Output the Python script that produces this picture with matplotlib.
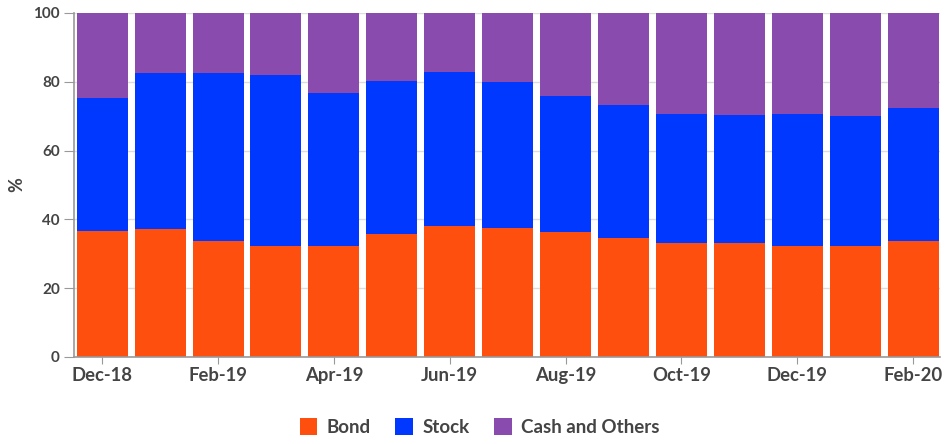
import matplotlib.pyplot as plt
import numpy as np

months = ["Dec-18", "Jan-19", "Feb-19", "Mar-19", "Apr-19", "May-19", "Jun-19",
          "Jul-19", "Aug-19", "Sep-19", "Oct-19", "Nov-19", "Dec-19", "Jan-20", "Feb-20"]
bond = [36.6, 37.3, 33.6, 32.2, 32.2, 35.7, 38.1, 37.4, 36.2, 34.7, 33.1, 33.0, 32.3, 32.3, 33.7]
stock = [38.7, 45.3, 49.0, 49.7, 44.5, 44.4, 44.6, 42.4, 39.6, 38.6, 37.5, 37.3, 38.2, 37.6, 38.7]
cash = [100 - b - s for b, s in zip(bond, stock)]

plt.rcParams["font.family"] = ["Lato", "DejaVu Sans"]

fig = plt.figure(figsize=(9.46, 4.44), dpi=100)
ax = fig.add_axes([0.078, 0.196, 0.916, 0.775])

x = np.arange(len(months))
bond = np.array(bond)
stock = np.array(stock)
cash = np.array(cash)

ax.bar(x, bond, width=0.88, color="#FF4F0F", label="Bond", zorder=2)
ax.bar(x, stock, width=0.88, bottom=bond, color="#0038FF", label="Stock", zorder=2)
ax.bar(x, cash, width=0.88, bottom=bond + stock, color="#8A4BAF", label="Cash and Others", zorder=2)

ax.set_xlim(-0.49, 14.47)
ax.set_ylim(0, 100)
ax.set_yticks([0, 20, 40, 60, 80, 100])
ax.set_xticks(x[::2])
ax.set_xticklabels(months[::2])
ax.grid(axis="y", color="#dddddd", linewidth=1, zorder=0)

for side in ["top", "right"]:
    ax.spines[side].set_visible(False)
ax.spines["left"].set_color("#999999")
ax.spines["bottom"].set_color("#999999")
ax.spines["left"].set_linewidth(1.2)
ax.spines["bottom"].set_linewidth(1.2)

ax.tick_params(axis="x", length=5, color="#999999", labelsize=13.3, labelcolor="#444444", pad=2)
ax.tick_params(axis="y", length=7, color="#999999", labelsize=11, labelcolor="#444444", pad=3)
for lbl in ax.get_xticklabels() + ax.get_yticklabels():
    lbl.set_fontweight("bold")

ax.set_ylabel("%", fontsize=13, color="#444444", fontweight="bold")
ax.yaxis.set_label_coords(-0.056, 0.5)

fig.legend(loc="center", bbox_to_anchor=(0.507, 0.038), ncol=3, frameon=False,
           handlelength=0.95, handleheight=1.0, handletextpad=0.5, columnspacing=1.3,
           prop={"size": 13.5, "weight": "bold"}, labelcolor="#444444")

fig.savefig("out.png", dpi=100)
